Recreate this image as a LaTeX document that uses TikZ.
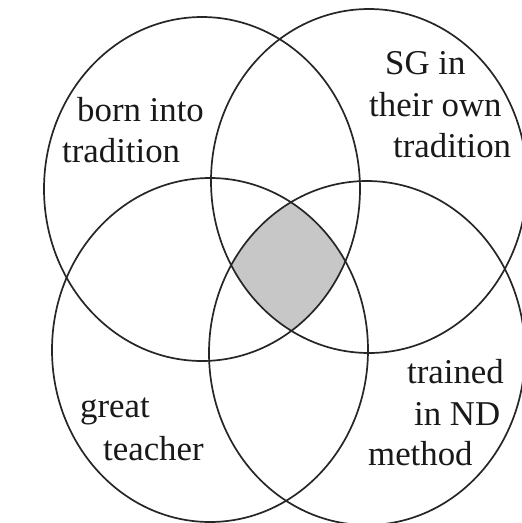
\documentclass[tikz,border=0pt]{standalone}
\usepackage{fontspec}
\setmainfont{Liberation Serif}
\usetikzlibrary{shapes.geometric}
\begin{document}
\begin{tikzpicture}[x=1pt,y=-1pt,
  venn/.style={draw=black!85, line width=1.7pt, ellipse, minimum width=316pt, minimum height=344pt, inner sep=0pt, outer sep=0pt},
  lbl/.style={anchor=base west, inner sep=0pt, font=\fontsize{34.8}{42}\selectfont, text=black!90}]
\useasboundingbox (0,0) rectangle (522,523);
\fill[white] (0,0) rectangle (522,523);
\begin{scope}
  \clip (202,189) ellipse [x radius=158pt, y radius=172pt];
  \clip (369,181) ellipse [x radius=158pt, y radius=172pt];
  \clip (210,350) ellipse [x radius=158pt, y radius=172pt];
  \fill[black!22] (367,353) ellipse [x radius=158pt, y radius=172pt];
\end{scope}
\node[venn] (tl) at (202,189) {};
\node[venn] (tr) at (369,181) {};
\node[venn] (bl) at (210,350) {};
\node[venn] (br) at (367,353) {};
\node[lbl] (t1) at (77,121) {born into};
\node[lbl] (t2) at (62,162) {tradition};
\node[lbl] (s1) at (385,74) {SG in};
\node[lbl] (s2) at (369,116) {their own};
\node[lbl] (s3) at (393,157) {tradition};
\node[lbl] (g1) at (80,417) {great};
\node[lbl] (g2) at (103,460) {teacher};
\node[lbl] (n1) at (407,383) {trained};
\node[lbl] (n2) at (414,425) {in ND};
\node[lbl] (n3) at (368,465) {method};
\end{tikzpicture}
\end{document}
